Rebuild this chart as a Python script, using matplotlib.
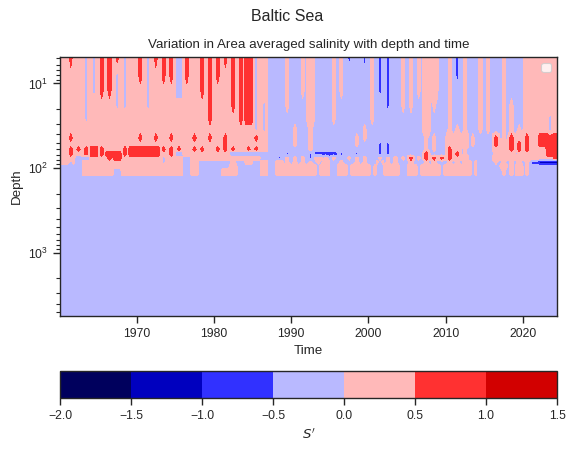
import numpy as np
import matplotlib
matplotlib.use("Agg")
import matplotlib.pyplot as plt
import seaborn as sns

sns.set_theme(context="paper", style="ticks")
# Arial is not installed, Liberation Sans has the same metrics
plt.rcParams["font.family"] = ["Liberation Sans", "DejaVu Sans"]

# one column per year, 1960 .. 2024
years = np.arange(1960, 2025)

# depth (m) of each row of the field
depth = [4.8, 8, 12, 18, 26, 35, 44, 52, 60, 68, 76, 85, 95, 107, 118, 128, 5600]

# salinity anomaly, one letter per year
# each letter gives the values at the start, middle and end of that year
code_value = {
    "p": (0.25, 0.25, 0.25),     # light red
    "b": (-0.25, -0.25, -0.25),  # light blue
    "c": (0.25, -0.25, 0.25),    # thin light blue streak
    "q": (-0.25, 0.25, -0.25),   # thin light red streak
    "r": (0.25, 0.75, 0.25),     # thin red streak
    "R": (0.75, 0.75, 0.75),     # red
    "u": (-0.25, -0.75, -0.25),  # thin blue streak
    "v": (-0.25, -0.6, -0.25),   # blue dot
    "B": (-0.75, -0.75, -0.75),  # blue
    "D": (-1.2, -1.2, -1.2),     # dark blue
}

rows = [
    "prpcc rrrcp rcrrr brprr rrrrR cpbbq bqpbb qqubu quubq qqppb quqbq qbqbb ppppp",  # 4.8
    "pppcc rrccp rcprr brprr rprrR cpbbq bqpbb qqbbb quubq qqppb quqbq qbqbb ppppp",  # 8
    "pppcc rrccp pcppp bpprr pprrR cpbbq bqpbb qqbbb quubq qqppb qbqbq qbqbb ppppp",  # 12
    "pppcp ppccp pcppp ppppr pprrR ccbbq bbpbb qbbbb qbubq qbpqb qbqbq qbqqb ppppp",  # 18
    "pppcp ppppp ppppp ppppr ppprR ccbbb bbpbb qbbbb qbbbb bbpbb qbqbq qbqqb pppcp",  # 26
    "ppppp ppppp ppppp ppppp ppppp ccbbb qbqbb bbbbq bbbbb bbpbb qqqbq qbqqq pppcp",  # 35
    "prppp ppppp rprpr pprpr prppp rpbbb qbqbb bbbqq bbbbb bbqqb pppqb brqrp rpRRR",  # 44
    "ppppp ppppp ppppp ppppp prppp ppbbb qbqbb bbbqb buubb bbqqb pppqb brprr rpRRR",  # 52
    "prrrR rpprR RRRrr rprrp rrrpr rpbbb bbqbb bbbbb buubb bbqqb rpqbb bpprr rppRR",  # 60
    "prprR rRRrR RRRpr vpppp ppvvu uvbbu vbvBB Bubub buubb bbrbb rrqbb bqppq pppRR",  # 68
    "ppvvp prRpp pppcp pbppp ppppp pbbuq qqupq qbqqq bqqqq rqrrr rppbb bpppp ppppR",  # 76
    "pcbpp ppppp pppcp pbpbb bbqbp bpbpq qqqqp bqbqq bcqqb qbqqb qqqcb bqqqq qBDDD",  # 85
    "bbbpp ppppp ppppp pbpbb bbpbb bpbpp pppcp bpcpp cbppb pcppc pppcb bbpqp qbbbb",  # 95
    "bbbpp ppbpp ppppp pbpbb bppbb bpbpp pppcp bpcpp cbppb pcppc pppcb bbqqp qbbbb",  # 107
    "bbbpp ppbpp ppppp pbpbb bppbb bpbpp pppcp bpcpp cbppb pcppc pppcb bbqqp qbbbb",  # 118
]
deep_value = -0.25  # 128 m down to the bottom

levels = [-2.0, -1.5, -1.0, -0.5, 0.0, 0.5, 1.0, 1.5]

# three sample times inside every year
sub = np.array([0.1, 0.5, 0.9])
time = (years[:, None] + sub[None, :]).ravel()

field = [[v for ch in row.replace(" ", "") for v in code_value[ch]] for row in rows]
field += [[deep_value] * len(time)] * 2
field = np.array(field)

fig = plt.figure(figsize=(5.74, 4.51), dpi=100)
ax = fig.add_axes([0.1045, 0.2993, 0.866, 0.5754])
cax = fig.add_axes([0.1045, 0.1175, 0.866, 0.0599])

cs = ax.contourf(time, depth, field, levels=levels, cmap="seismic", vmin=-1.85, vmax=1.85)
ax.set_yscale("log")
ax.set_ylim(5600, 4.8)
ax.set_xlim(1960.1, 2024.4)
ax.set_xlabel("Time")
ax.set_ylabel("Depth")
ax.set_title("Variation in Area averaged salinity with depth and time")
ax.legend(loc="upper right")

cb = fig.colorbar(cs, cax=cax, orientation="horizontal")
cb.set_label("$S'$")

fig.suptitle("Baltic Sea")
fig.savefig("out.png", dpi=100)
